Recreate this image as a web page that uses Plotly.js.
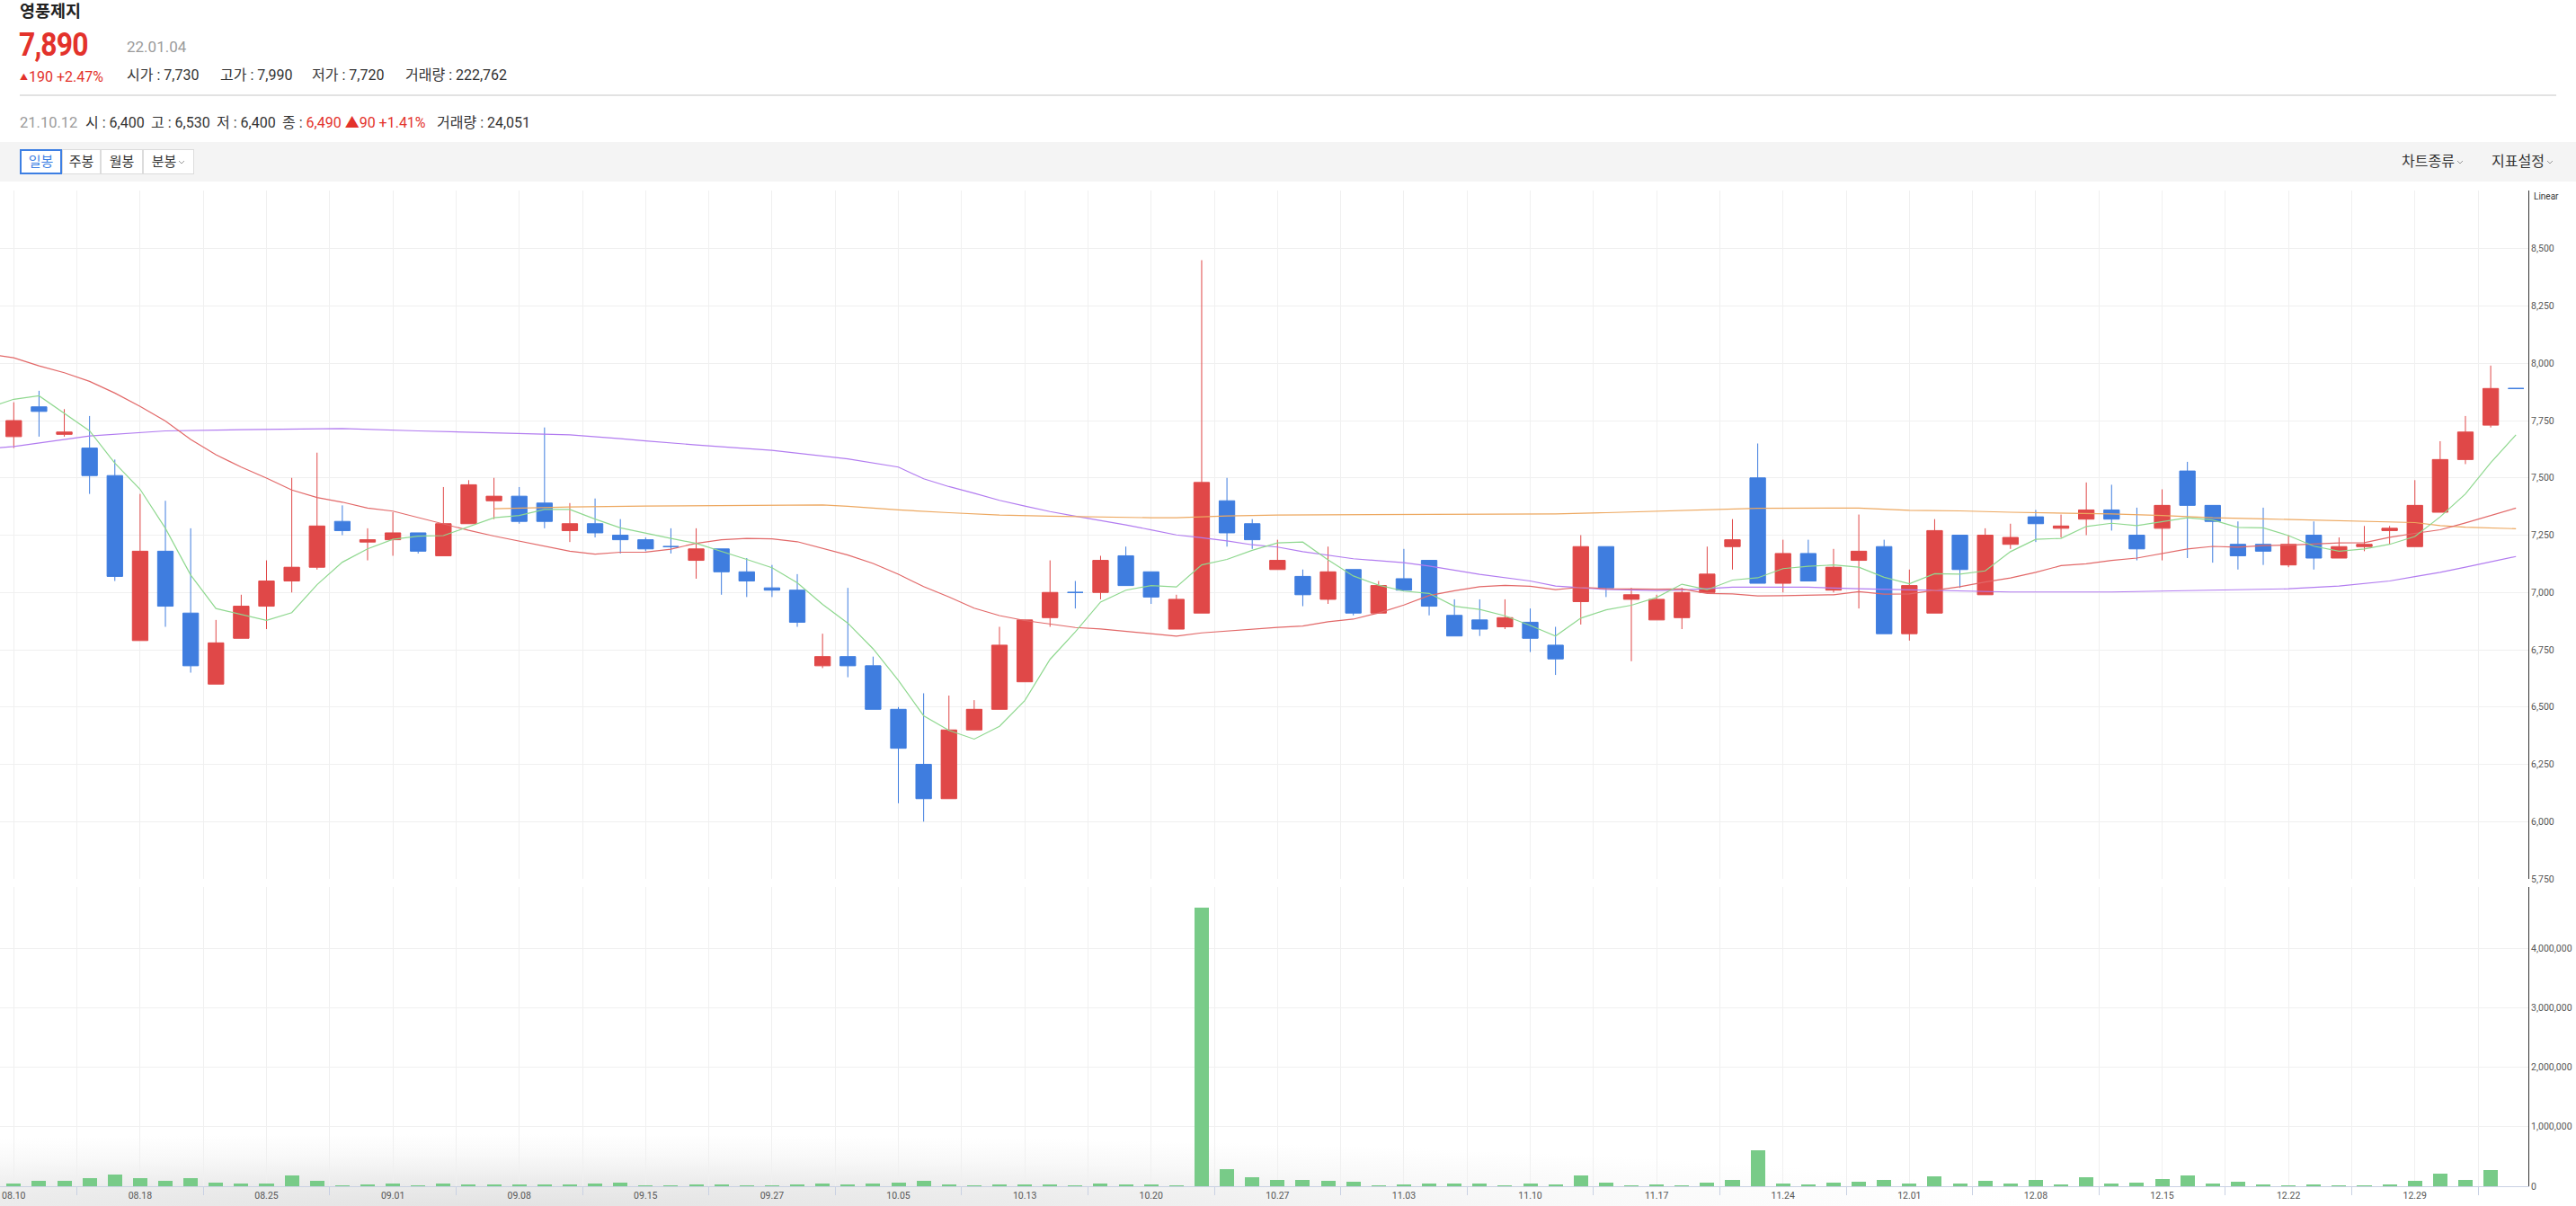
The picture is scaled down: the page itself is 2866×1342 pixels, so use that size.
<!DOCTYPE html>
<html>
<head>
<meta charset="utf-8">
<script src="https://cdn.plot.ly/plotly-3.0.1.min.js"></script>
<style>
html,body{margin:0;padding:0;width:2866px;height:1342px;overflow:hidden;background:#fff;
  font-family:Roboto,"Noto Sans CJK KR",sans-serif;}
.t{position:absolute;white-space:nowrap;line-height:1;}
#sep{position:absolute;left:22px;top:105px;width:2822px;height:2px;background:#e2e2e2;}
#toolbar{position:absolute;left:0;top:158px;width:2866px;height:44px;background:#f4f4f4;}
.btn{position:absolute;top:8px;height:28px;box-sizing:border-box;background:#fff;border:1px solid #dcdcdc;
  font-size:15px;color:#333;line-height:26px;text-align:center;}
.btn.sel{border:2px solid #3d7fe3;color:#3d7fe3;line-height:24px;}
.rt{position:absolute;top:12px;font-size:16px;color:#333;line-height:20px;}
svg.chev{vertical-align:middle;margin-left:2px;}
#shade{position:absolute;left:0;top:1262px;width:2866px;height:80px;
  background:radial-gradient(ellipse 1700px 80px at 560px 100%, #e3e3e3 0%, #ececec 35%, rgba(246,246,246,0.7) 70%, rgba(255,255,255,0) 100%);}
#chart{position:absolute;left:0;top:0;width:2866px;height:1342px;}
</style>
</head>
<body>
<div id="shade"></div>

<div class="t" style="left:22px;top:4px;font-size:18.5px;font-weight:700;color:#222;">영풍제지</div>
<div class="t" style="left:21px;top:31px;font-size:37px;font-weight:700;color:#e3322b;letter-spacing:-1px;transform:scaleX(0.86);transform-origin:0 0;">7,890</div>
<div class="t" style="left:141px;top:44px;font-size:17px;color:#9b9b9b;">22.01.04</div>
<div class="t" style="left:22px;top:78px;font-size:16px;color:#e3322b;"><span style="font-size:9px;vertical-align:2px;margin-right:1px;">▲</span>190 +2.47%</div>
<div class="t" style="left:141px;top:76px;font-size:16px;color:#333;">시가 : 7,730</div>
<div class="t" style="left:245px;top:76px;font-size:16px;color:#333;">고가 : 7,990</div>
<div class="t" style="left:347px;top:76px;font-size:16px;color:#333;">저가 : 7,720</div>
<div class="t" style="left:451px;top:76px;font-size:16px;color:#333;">거래량 : 222,762</div>
<div id="sep"></div>
<div class="t" style="left:22px;top:129px;font-size:16.5px;color:#9b9b9b;">21.10.12</div>
<div class="t" style="left:95px;top:129px;font-size:16px;color:#333;">시 : 6,400</div>
<div class="t" style="left:168px;top:129px;font-size:16px;color:#333;">고 : 6,530</div>
<div class="t" style="left:241px;top:129px;font-size:16px;color:#333;">저 : 6,400</div>
<div class="t" style="left:314px;top:129px;font-size:16px;color:#333;">종 : <span style="color:#e3322b;">6,490 ▲90 +1.41%</span></div>
<div class="t" style="left:486px;top:129px;font-size:16px;color:#333;">거래량 : 24,051</div>

<div id="toolbar">
  <div class="btn sel" style="left:22px;width:47px;">일봉</div>
  <div class="btn" style="left:69px;width:43px;">주봉</div>
  <div class="btn" style="left:112px;width:47px;">월봉</div>
  <div class="btn" style="left:159px;width:57px;">분봉<svg class="chev" width="8" height="6" viewBox="0 0 8 6"><polyline points="1,1 4,4 7,1" fill="none" stroke="#999" stroke-width="1"/></svg></div>
  <div class="rt" style="left:2672px;">차트종류<svg class="chev" width="8" height="6" viewBox="0 0 8 6"><polyline points="1,1 4,4 7,1" fill="none" stroke="#999" stroke-width="1"/></svg></div>
  <div class="rt" style="left:2772px;">지표설정<svg class="chev" width="8" height="6" viewBox="0 0 8 6"><polyline points="1,1 4,4 7,1" fill="none" stroke="#999" stroke-width="1"/></svg></div>
</div>

<div id="chart"></div>

<script>
// ---------------- DATA ----------------
const dates = ["21.08.10","21.08.11","21.08.12","21.08.13","21.08.17","21.08.18","21.08.19","21.08.20","21.08.23","21.08.24",
"21.08.25","21.08.26","21.08.27","21.08.30","21.08.31","21.09.01","21.09.02","21.09.03","21.09.06","21.09.07",
"21.09.08","21.09.09","21.09.10","21.09.13","21.09.14","21.09.15","21.09.16","21.09.17","21.09.23","21.09.24",
"21.09.27","21.09.28","21.09.29","21.09.30","21.10.01","21.10.05","21.10.06","21.10.07","21.10.08","21.10.12",
"21.10.13","21.10.14","21.10.15","21.10.18","21.10.19","21.10.20","21.10.21","21.10.22","21.10.25","21.10.26",
"21.10.27","21.10.28","21.10.29","21.11.01","21.11.02","21.11.03","21.11.04","21.11.05","21.11.08","21.11.09",
"21.11.10","21.11.11","21.11.12","21.11.15","21.11.16","21.11.17","21.11.18","21.11.19","21.11.22","21.11.23",
"21.11.24","21.11.25","21.11.26","21.11.29","21.11.30","21.12.01","21.12.02","21.12.03","21.12.06","21.12.07",
"21.12.08","21.12.09","21.12.10","21.12.13","21.12.14","21.12.15","21.12.16","21.12.17","21.12.20","21.12.21",
"21.12.22","21.12.23","21.12.24","21.12.27","21.12.28","21.12.29","21.12.30","22.01.03","22.01.04","22.01.05"];

const open = [7680,7810,7690,7630,7510,6790,7180,6910,6600,6800,
6940,7050,7110,7310,7220,7230,7260,7160,7300,7400,
7420,7390,7270,7300,7250,7230,7200,7140,7190,7090,
7020,7010,6680,6720,6680,6490,6250,6100,6400,6490,
6610,6890,7000,7000,7160,7090,6840,6910,7400,7300,
7100,7070,6970,7100,6910,7060,7140,6900,6880,6850,
6870,6770,6960,7200,6970,6880,6890,7000,7200,7500,
7040,7170,7010,7140,7200,6820,6910,7250,6990,7210,
7330,7280,7320,7360,7250,7280,7530,7380,7210,7210,
7120,7250,7150,7200,7270,7200,7350,7580,7730,7890];

const high = [7830,7880,7800,7770,7580,7430,7400,7280,6880,6990,
7140,7500,7610,7380,7280,7350,7260,7460,7490,7500,
7460,7720,7390,7410,7320,7240,7280,7280,7190,7150,
7120,7080,6820,7020,6720,6500,6560,6550,6530,6850,
6880,7140,7050,7160,7200,7090,6990,8450,7500,7320,
7230,7100,7200,7100,7050,7190,7140,6970,6970,6970,
6930,6850,7250,7200,7020,6990,7020,7200,7320,7650,
7230,7230,7190,7340,7230,7100,7320,7250,7280,7300,
7360,7340,7480,7470,7370,7450,7570,7380,7310,7370,
7250,7310,7240,7290,7290,7490,7660,7770,7990,7890];

const low = [7630,7680,7680,7430,7050,6790,6850,6650,6600,6800,
6840,7000,7100,7250,7140,7160,7170,7160,7300,7320,
7300,7280,7220,7240,7170,7180,7170,7060,6990,6980,
6980,6850,6670,6630,6490,6080,6000,6100,6400,6490,
6610,6850,6930,6970,7030,6950,6840,6910,7200,7190,
7100,6940,6950,6900,6910,7010,6900,6810,6810,6840,
6740,6640,6860,6980,6700,6880,6840,7000,7100,7040,
7000,7050,7000,6930,6820,6790,6910,7020,6990,7190,
7220,7240,7250,7270,7140,7140,7150,7130,7100,7120,
7110,7100,7150,7180,7210,7200,7350,7560,7720,7890];

const close = [7750,7790,7700,7510,7070,7180,6940,6680,6780,6940,
7050,7110,7290,7270,7230,7260,7180,7300,7470,7420,
7310,7310,7300,7260,7230,7190,7200,7190,7090,7050,
7010,6870,6720,6680,6490,6320,6100,6400,6490,6770,
6880,7000,7000,7140,7030,6980,6970,7480,7260,7230,
7140,6990,7090,6910,7030,7010,6940,6810,6840,6890,
6800,6710,7200,7020,6990,6970,7000,7080,7230,7040,
7170,7050,7110,7180,6820,7030,7270,7100,7250,7240,
7300,7290,7360,7320,7190,7380,7380,7310,7160,7180,
7210,7150,7200,7210,7280,7380,7580,7700,7890,7890];

const volume = [50000,96000,96000,141000,201000,141000,96000,141000,65000,50000,
50000,186000,96000,20000,35000,50000,20000,50000,35000,35000,
35000,35000,35000,50000,65000,10000,20000,35000,35000,20000,
20000,35000,50000,35000,50000,65000,86000,35000,20000,35000,
35000,35000,20000,50000,35000,35000,20000,4690000,292000,156000,
111000,111000,96000,80000,20000,35000,50000,50000,50000,20000,
50000,35000,186000,65000,20000,35000,20000,65000,111000,608000,
50000,35000,65000,80000,111000,50000,171000,50000,96000,50000,
111000,35000,156000,50000,65000,126000,186000,50000,80000,30000,
15000,30000,15000,15000,30000,91000,211000,111000,272000,0];

// moving-average values visible before enough bars exist in the window
const ma5HeadX = [-1,0,1,2,3];
const ma5Head  = [7806,7843,7858,7782,7705];
const ma20HeadX = [-1,0,1,2,3,4,5,6,7,8,9,10,11,12,13,14,15,16,17,18];
const ma20Head  = [8040,8024,7989,7959,7921,7870,7812,7748,7668,7601,7547,7499,7447,7414,7394,7368,7355,7326,7297,7271];
// longer averages (history before 08.10 not shown)
const ma60X = [-1,0,3,6,9,13,16,17,20,22,24,25,27,30,33,35,36,37,38,39,40,41,42,43,44,45,46,47,48,49,50,51,53,55,56,58,60,61,62,63,65,66,68,71,73,75,77,79,83,85,88,90,92,93,94,95,96,97,98,99];
const ma60V = [7627,7637,7683,7705,7710,7715,7705,7702,7693,7688,7671,7661,7644,7620,7583,7547,7496,7462,7433,7402,7377,7353,7333,7314,7295,7273,7251,7239,7225,7208,7198,7178,7147,7130,7115,7079,7050,7028,7021,7013,7008,7010,7023,7023,7016,7011,7008,7002,7002,7006,7011,7016,7028,7038,7050,7069,7088,7110,7134,7157];
const ma120X = [19,22,25,28,30,32,33,35,37,39,41,43,45,46,47,48,50,55,61,63,65,67,69,72,73,75,77,79,81,83,85,87,89,91,93,95,96,97,99];
const ma120V = [7365,7373,7377,7380,7382,7382,7376,7360,7348,7338,7333,7329,7326,7326,7331,7334,7338,7339,7343,7348,7355,7362,7367,7368,7368,7358,7356,7350,7346,7343,7336,7326,7321,7316,7310,7305,7292,7285,7278];

const priceTicks = [5750,6000,6250,6500,6750,7000,7250,7500,7750,8000,8250,8500];
const volTicks = [0,1000000,2000000,3000000,4000000];
const labelEvery = 5;

// ---------------- BUILD ----------------
const RED = '#e04848', BLUE = '#3f7ddf', VOLC = '#78cb88';
const N = dates.length;
const xs = dates.map((d, i) => i);

function movingAvg(arr, i, n) { let s = 0; for (let k = i - n + 1; k <= i; k++) s += arr[k]; return s / n; }
const ma5X = ma5HeadX.slice(), ma5Y = ma5Head.slice();
for (let i = 4; i < N; i++) { ma5X.push(i); ma5Y.push(movingAvg(close, i, 5)); }
const ma20X = ma20HeadX.slice(), ma20Y = ma20Head.slice();
for (let i = 19; i < N; i++) { ma20X.push(i); ma20Y.push(movingAvg(close, i, 20)); }

const up = [], dn = [];
xs.forEach(i => (close[i] > open[i] ? up : dn).push(i));
function pick(arr, idx) { return idx.map(i => arr[i]); }
function candle(idx, col) {
  return {type: 'candlestick', x: idx, open: pick(open, idx), high: pick(high, idx), low: pick(low, idx), close: pick(close, idx),
    xaxis: 'x', yaxis: 'y2', whiskerwidth: 0, hoverinfo: 'skip',
    increasing: {line: {color: col, width: 1}, fillcolor: col},
    decreasing: {line: {color: col, width: 1}, fillcolor: col}};
}
function line(x, y, col) {
  return {type: 'scatter', mode: 'lines', x: x, y: y, xaxis: 'x', yaxis: 'y2', hoverinfo: 'skip',
    line: {color: col, width: 1.2}};
}

const tickvals = xs.filter(i => i % labelEvery === 0);
const ticktext = tickvals.map(i => dates[i].slice(3));

const traces = [
  {type: 'bar', x: xs, y: volume, xaxis: 'x', yaxis: 'y', marker: {color: VOLC, line: {width: 0}}, width: 0.57, hoverinfo: 'skip'},
  candle(up, RED),
  candle(dn, BLUE),
  line(ma60X, ma60V, '#b27cf0'),
  line(ma120X, ma120V, '#eda860'),
  line(ma20X, ma20Y, '#e26868'),
  line(ma5X, ma5Y, '#8fd88f')
];

const tickFont = {family: 'Roboto, "Noto Sans CJK KR", sans-serif', size: 10.5, color: '#555'};
const plotTop = 212, plotBottom = 1320, priceBottom = 978, volTop = 987;
const H = plotBottom - plotTop;

const layout = {
  width: 2866, height: 1342,
  margin: {l: 0, r: 53, t: plotTop, b: 1342 - plotBottom, pad: 0},
  paper_bgcolor: 'rgba(0,0,0,0)', plot_bgcolor: 'rgba(0,0,0,0)',
  showlegend: false,
  boxgap: 0.385, boxgroupgap: 0, bargap: 0,
  font: tickFont,
  xaxis: {
    range: [-0.544, 99.49], tickmode: 'array', tickvals: tickvals, ticktext: ticktext,
    rangeslider: {visible: false},
    ticks: '', showgrid: true, gridcolor: '#f0f0f0', gridwidth: 1, zeroline: false,
    showline: true, linecolor: '#c9d1e3', linewidth: 1, tickfont: tickFont, anchor: 'y',
    minor: {tick0: 2.5, dtick: 5, ticks: 'outside', ticklen: 9, tickcolor: '#c9d1e3', tickwidth: 1,
      showgrid: true, gridcolor: '#f0f0f0', gridwidth: 1},
    fixedrange: true
  },
  yaxis: {
    domain: [0, (plotBottom - volTop) / H], range: [0, 5030000], side: 'right', anchor: 'x',
    tickmode: 'array', tickvals: volTicks, tickformat: ',d', ticks: '', showgrid: true, gridcolor: '#f0f0f0',
    zeroline: false, showline: true, linecolor: '#333', linewidth: 1, tickfont: tickFont, fixedrange: true
  },
  yaxis2: {
    domain: [(plotBottom - priceBottom) / H, 1], range: [5750, 8754], side: 'right', anchor: 'x',
    tickmode: 'array', tickvals: priceTicks, tickformat: ',d', ticks: '', showgrid: true, gridcolor: '#f0f0f0',
    zeroline: false, showline: true, linecolor: '#333', linewidth: 1, tickfont: tickFont, fixedrange: true
  },
  annotations: [{
    text: 'Linear', xref: 'paper', yref: 'paper', x: 1, y: 1, xanchor: 'left', yanchor: 'top',
    xshift: 4, yshift: 1, showarrow: false, font: {family: 'Roboto, sans-serif', size: 10, color: '#333'}
  }]
};

Plotly.newPlot('chart', traces, layout, {displayModeBar: false, staticPlot: true});
</script>
</body>
</html>
